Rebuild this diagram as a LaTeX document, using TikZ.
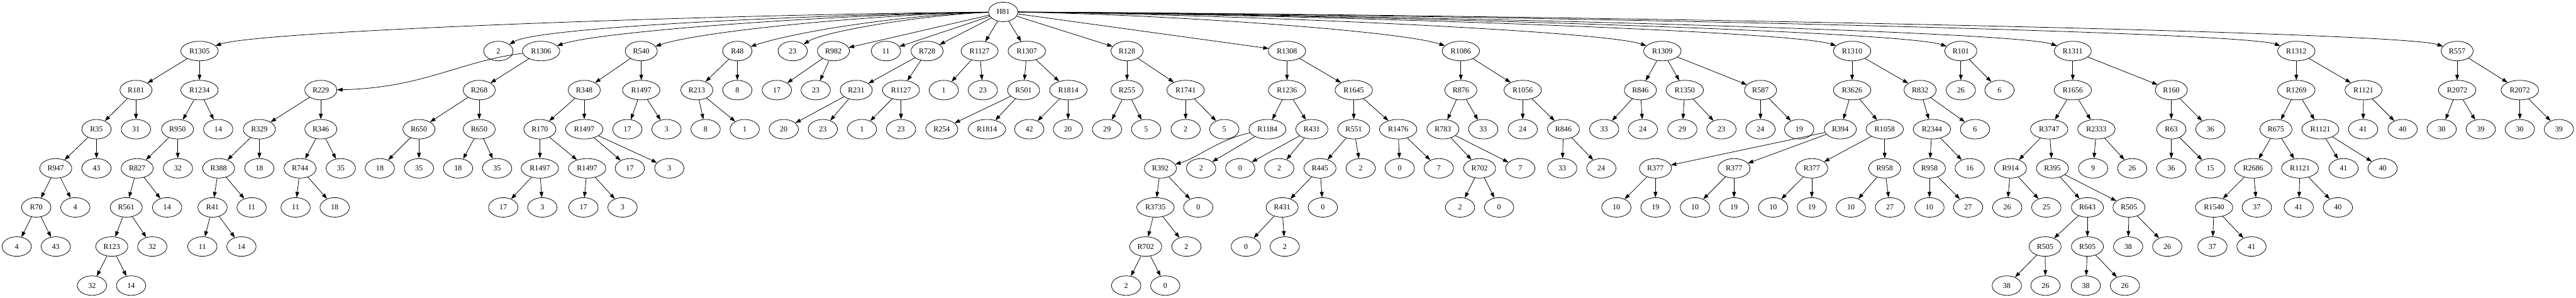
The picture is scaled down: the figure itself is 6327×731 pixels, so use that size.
\documentclass[tikz,border=0pt]{standalone}
\usepackage{fontspec}
\setmainfont{Liberation Serif}
\usetikzlibrary{shapes.geometric,arrows.meta}
\tikzset{
  nd/.style={draw, ellipse, line width=0.9pt, minimum width=54pt, minimum height=36pt,
    inner xsep=5.7pt, inner ysep=3pt, font=\fontsize{14pt}{16pt}\selectfont},
  ed/.style={draw, line width=0.9pt, -{Triangle[length=10pt,width=7pt]}}
}
\begin{document}
\begin{tikzpicture}[x=0.75pt,y=-0.75pt]
\useasboundingbox (0,0) rectangle (6327,731);
% row 0
\node[nd] (h) at (2464,29.3) {H81};
% row 1
\def\yr{125.4}
\node[nd] (a1) at (490,\yr) {R1305};
\node[nd] (a2) at (1224,\yr) {2};
\node[nd] (a3) at (1329,\yr) {R1306};
\node[nd] (a4) at (1575,\yr) {R540};
\node[nd] (a5) at (1811,\yr) {R48};
\node[nd] (a6) at (1947,\yr) {23};
\node[nd] (a7) at (2047,\yr) {R982};
\node[nd] (a8) at (2176,\yr) {11};
\node[nd] (a9) at (2277,\yr) {R728};
\node[nd] (a10) at (2406,\yr) {R1127};
\node[nd] (a11) at (2522,\yr) {R1307};
\node[nd] (a12) at (2768,\yr) {R128};
\node[nd] (a13) at (3161,\yr) {R1308};
\node[nd] (a14) at (3588,\yr) {R1086};
\node[nd] (a15) at (4083,\yr) {R1309};
\node[nd] (a16) at (4549,\yr) {R1310};
\node[nd] (a17) at (4816,\yr) {R101};
\node[nd] (a18) at (5091,\yr) {R1311};
\node[nd] (a19) at (5640,\yr) {R1312};
\node[nd] (a20) at (6035,\yr) {R557};
% row 2
\def\yr{221.4}
\node[nd] (b1) at (334,\yr) {R181};
\node[nd] (b2) at (490,\yr) {R1234};
\node[nd] (b3) at (788,\yr) {R229};
\node[nd] (b4) at (1177,\yr) {R268};
\node[nd] (b5) at (1435,\yr) {R348};
\node[nd] (b6) at (1575,\yr) {R1497};
\node[nd] (b7) at (1711.5,\yr) {R213};
\node[nd] (b8) at (1811,\yr) {8};
\node[nd] (b9) at (1908,\yr) {17};
\node[nd] (b10) at (2003.5,\yr) {23};
\node[nd] (b11) at (2103,\yr) {R231};
\node[nd] (b12) at (2213,\yr) {R1127};
\node[nd] (b13) at (2318,\yr) {1};
\node[nd] (b14) at (2414,\yr) {23};
\node[nd] (b15) at (2514,\yr) {R501};
\node[nd] (b16) at (2624,\yr) {R1814};
\node[nd] (b17) at (2768,\yr) {R255};
\node[nd] (b18) at (2912,\yr) {R1741};
\node[nd] (b19) at (3161,\yr) {R1236};
\node[nd] (b20) at (3325,\yr) {R1645};
\node[nd] (b21) at (3588,\yr) {R876};
\node[nd] (b22) at (3740,\yr) {R1056};
\node[nd] (b23) at (4029,\yr) {R846};
\node[nd] (b24) at (4138,\yr) {R1350};
\node[nd] (b25) at (4324,\yr) {R587};
\node[nd] (b26) at (4549,\yr) {R3626};
\node[nd] (b27) at (4716,\yr) {R832};
\node[nd] (b28) at (4816,\yr) {26};
\node[nd] (b29) at (4911,\yr) {6};
\node[nd] (b30) at (5091,\yr) {R1656};
\node[nd] (b31) at (5333,\yr) {R160};
\node[nd] (b32) at (5640,\yr) {R1269};
\node[nd] (b33) at (5805,\yr) {R1121};
\node[nd] (b34) at (6035,\yr) {R2072};
\node[nd] (b35) at (6189,\yr) {R2072};
% row 3
\def\yr{317.5}
\node[nd] (c1) at (237,\yr) {R35};
\node[nd] (c2) at (334,\yr) {31};
\node[nd] (c3) at (436,\yr) {R950};
\node[nd] (c4) at (536,\yr) {14};
\node[nd] (c5) at (637,\yr) {R329};
\node[nd] (c6) at (788,\yr) {R346};
\node[nd] (c7) at (1029,\yr) {R650};
\node[nd] (c8) at (1177,\yr) {R650};
\node[nd] (c9) at (1326,\yr) {R170};
\node[nd] (c10) at (1435,\yr) {R1497};
\node[nd] (c11) at (1541,\yr) {17};
\node[nd] (c12) at (1637,\yr) {3};
\node[nd] (c13) at (1733,\yr) {8};
\node[nd] (c14) at (1829,\yr) {1};
\node[nd] (c15) at (1925,\yr) {20};
\node[nd] (c16) at (2021,\yr) {23};
\node[nd] (c17) at (2117,\yr) {1};
\node[nd] (c18) at (2213,\yr) {23};
\node[nd] (c19) at (2313,\yr) {R254};
\node[nd] (c20) at (2424,\yr) {R1814};
\node[nd] (c21) at (2528,\yr) {42};
\node[nd] (c22) at (2623,\yr) {20};
\node[nd] (c23) at (2719,\yr) {29};
\node[nd] (c24) at (2815,\yr) {5};
\node[nd] (c25) at (2912,\yr) {2};
\node[nd] (c26) at (3007,\yr) {5};
\node[nd] (c27) at (3113,\yr) {R1184};
\node[nd] (c28) at (3222,\yr) {R431};
\node[nd] (c29) at (3325,\yr) {R551};
\node[nd] (c30) at (3434,\yr) {R1476};
\node[nd] (c31) at (3544,\yr) {R783};
\node[nd] (c32) at (3643,\yr) {33};
\node[nd] (c33) at (3740,\yr) {24};
\node[nd] (c34) at (3840,\yr) {R846};
\node[nd] (c35) at (3940,\yr) {33};
\node[nd] (c36) at (4035,\yr) {24};
\node[nd] (c37) at (4132,\yr) {29};
\node[nd] (c38) at (4228,\yr) {23};
\node[nd] (c39) at (4324,\yr) {24};
\node[nd] (c40) at (4419,\yr) {19};
\node[nd] (c41) at (4520,\yr) {R394};
\node[nd] (c42) at (4629,\yr) {R1058};
\node[nd] (c43) at (4745,\yr) {R2344};
\node[nd] (c44) at (4851,\yr) {6};
\node[nd] (c45) at (5033,\yr) {R3747};
\node[nd] (c46) at (5149,\yr) {R2333};
\node[nd] (c47) at (5333,\yr) {R63};
\node[nd] (c48) at (5429,\yr) {36};
\node[nd] (c49) at (5590,\yr) {R675};
\node[nd] (c50) at (5699,\yr) {R1121};
\node[nd] (c51) at (5804,\yr) {41};
\node[nd] (c52) at (5901,\yr) {40};
\node[nd] (c53) at (5997,\yr) {30};
\node[nd] (c54) at (6093,\yr) {39};
\node[nd] (c55) at (6189,\yr) {30};
\node[nd] (c56) at (6285,\yr) {39};
% row 4
\def\yr{413.6}
\node[nd] (d1) at (137,\yr) {R947};
\node[nd] (d2) at (237,\yr) {43};
\node[nd] (d3) at (337,\yr) {R827};
\node[nd] (d4) at (437,\yr) {32};
\node[nd] (d5) at (537,\yr) {R388};
\node[nd] (d6) at (637,\yr) {18};
\node[nd] (d7) at (737,\yr) {R744};
\node[nd] (d8) at (837,\yr) {35};
\node[nd] (d9) at (933,\yr) {18};
\node[nd] (d10) at (1029,\yr) {35};
\node[nd] (d11) at (1125,\yr) {18};
\node[nd] (d12) at (1221,\yr) {35};
\node[nd] (d13) at (1326,\yr) {R1497};
\node[nd] (d14) at (1442,\yr) {R1497};
\node[nd] (d15) at (1547,\yr) {17};
\node[nd] (d16) at (1644,\yr) {3};
\node[nd] (d17) at (2850,\yr) {R392};
\node[nd] (d18) at (2950,\yr) {2};
\node[nd] (d19) at (3046,\yr) {0};
\node[nd] (d20) at (3142,\yr) {2};
\node[nd] (d21) at (3242,\yr) {R445};
\node[nd] (d22) at (3342,\yr) {2};
\node[nd] (d23) at (3438,\yr) {0};
\node[nd] (d24) at (3534,\yr) {7};
\node[nd] (d25) at (3634,\yr) {R702};
\node[nd] (d26) at (3734,\yr) {7};
\node[nd] (d27) at (3837,\yr) {33};
\node[nd] (d28) at (3933,\yr) {24};
\node[nd] (d29) at (4066,\yr) {R377};
\node[nd] (d30) at (4259,\yr) {R377};
\node[nd] (d31) at (4450,\yr) {R377};
\node[nd] (d32) at (4629,\yr) {R958};
\node[nd] (d33) at (4739,\yr) {R958};
\node[nd] (d34) at (4838,\yr) {16};
\node[nd] (d35) at (4938,\yr) {R914};
\node[nd] (d36) at (5041,\yr) {R395};
\node[nd] (d37) at (5141,\yr) {9};
\node[nd] (d38) at (5237,\yr) {26};
\node[nd] (d39) at (5333,\yr) {36};
\node[nd] (d40) at (5429,\yr) {15};
\node[nd] (d41) at (5534,\yr) {R2686};
\node[nd] (d42) at (5649,\yr) {R1121};
\node[nd] (d43) at (5756,\yr) {41};
\node[nd] (d44) at (5852,\yr) {40};
% row 5
\def\yr{509.6}
\node[nd] (e1) at (89,\yr) {R70};
\node[nd] (e2) at (185,\yr) {4};
\node[nd] (e3) at (310,\yr) {R561};
\node[nd] (e4) at (410.5,\yr) {14};
\node[nd] (e5) at (522,\yr) {R41};
\node[nd] (e6) at (618,\yr) {11};
\node[nd] (e7) at (726,\yr) {11};
\node[nd] (e8) at (822,\yr) {18};
\node[nd] (e9) at (1236,\yr) {17};
\node[nd] (e10) at (1332,\yr) {3};
\node[nd] (e11) at (1433,\yr) {17};
\node[nd] (e12) at (1529,\yr) {3};
\node[nd] (e13) at (2838,\yr) {R3735};
\node[nd] (e14) at (2943,\yr) {0};
\node[nd] (e15) at (3149,\yr) {R431};
\node[nd] (e16) at (3249,\yr) {0};
\node[nd] (e17) at (3586,\yr) {2};
\node[nd] (e18) at (3682,\yr) {0};
\node[nd] (e19) at (3970,\yr) {10};
\node[nd] (e20) at (4066,\yr) {19};
\node[nd] (e21) at (4163,\yr) {10};
\node[nd] (e22) at (4259,\yr) {19};
\node[nd] (e23) at (4355,\yr) {10};
\node[nd] (e24) at (4450,\yr) {19};
\node[nd] (e25) at (4546,\yr) {10};
\node[nd] (e26) at (4642,\yr) {27};
\node[nd] (e27) at (4739,\yr) {10};
\node[nd] (e28) at (4834,\yr) {27};
\node[nd] (e29) at (4930,\yr) {26};
\node[nd] (e30) at (5026,\yr) {25};
\node[nd] (e31) at (5127,\yr) {R643};
\node[nd] (e32) at (5229,\yr) {R505};
\node[nd] (e33) at (5438,\yr) {R1540};
\node[nd] (e34) at (5543,\yr) {37};
\node[nd] (e35) at (5646,\yr) {41};
\node[nd] (e36) at (5742,\yr) {40};
% row 6
\def\yr{605.7}
\node[nd] (f1) at (41,\yr) {4};
\node[nd] (f2) at (137,\yr) {43};
\node[nd] (f3) at (274.5,\yr) {R123};
\node[nd] (f4) at (374,\yr) {32};
\node[nd] (f5) at (497,\yr) {11};
\node[nd] (f6) at (593,\yr) {14};
\node[nd] (f7) at (2814,\yr) {R702};
\node[nd] (f8) at (2914,\yr) {2};
\node[nd] (f9) at (3060,\yr) {0};
\node[nd] (f10) at (3155.5,\yr) {2};
\node[nd] (f11) at (5023,\yr) {R505};
\node[nd] (f12) at (5127,\yr) {R505};
\node[nd] (f13) at (5227,\yr) {38};
\node[nd] (f14) at (5323,\yr) {26};
\node[nd] (f15) at (5434,\yr) {37};
\node[nd] (f16) at (5530,\yr) {41};
% row 7
\def\yr{701.7}
\node[nd] (g1) at (226,\yr) {32};
\node[nd] (g2) at (322,\yr) {14};
\node[nd] (g3) at (2766,\yr) {2};
\node[nd] (g4) at (2862,\yr) {0};
\node[nd] (g5) at (4929,\yr) {38};
\node[nd] (g6) at (5024,\yr) {26};
\node[nd] (g7) at (5123,\yr) {38};
\node[nd] (g8) at (5219,\yr) {26};
% edges from the root: curved ones pass above the nodes in between
\foreach \c/\ax/\bx/\by in {a1/-691/150/-50, a2/-434/100/-60, a3/-397/150/-50,
  a4/-311/150/-50, a5/-229/150/-50, a6/-181/80/-50, a14/393/-150/-50,
  a15/567/-150/-50, a16/730/-150/-50, a17/823/-150/-50, a18/919/-150/-50,
  a19/1112/-150/-50, a20/1250/-150/-50}
  \draw[ed] (h) .. controls +(\ax,6) and +(\bx,\by) .. (\c);
\foreach \c in {a7,a8,a9,a10,a11,a12,a13}
  \draw[ed] (h) -- (\c);
\draw[ed] (a3) .. controls +(-200,25) and +(250,-5) .. (b3);
\draw[ed] (c27) .. controls +(-120,25) and +(90,-25) .. (d17);
\foreach \p/\c in {a1/b1,a1/b2,a3/b4,a4/b5,a4/b6,a5/b7,a5/b8,a7/b9,a7/b10,
  a9/b11,a9/b12,a10/b13,a10/b14,a11/b15,a11/b16,a12/b17,a12/b18,a13/b19,a13/b20,
  a14/b21,a14/b22,a15/b23,a15/b24,a15/b25,a16/b26,a16/b27,a17/b28,a17/b29,
  a18/b30,a18/b31,a19/b32,a19/b33,a20/b34,a20/b35}
  \draw[ed] (\p) -- (\c);
\foreach \p/\c in {b1/c1,b1/c2,b2/c3,b2/c4,b3/c5,b3/c6,b4/c7,b4/c8,b5/c9,b5/c10,
  b6/c11,b6/c12,b7/c13,b7/c14,b11/c15,b11/c16,b12/c17,b12/c18,b15/c19,b15/c20,
  b16/c21,b16/c22,b17/c23,b17/c24,b18/c25,b18/c26,b19/c27,b19/c28,b20/c29,b20/c30,
  b21/c31,b21/c32,b22/c33,b22/c34,b23/c35,b23/c36,b24/c37,b24/c38,b25/c39,b25/c40,
  b26/c41,b26/c42,b27/c43,b27/c44,b30/c45,b30/c46,b31/c47,b31/c48,b32/c49,b32/c50,
  b33/c51,b33/c52,b34/c53,b34/c54,b35/c55,b35/c56}
  \draw[ed] (\p) -- (\c);
\foreach \p/\c in {c1/d1,c1/d2,c3/d3,c3/d4,c5/d5,c5/d6,c6/d7,c6/d8,c7/d9,c7/d10,
  c8/d11,c8/d12,c9/d13,c9/d14,c10/d15,c10/d16,c27/d18,c28/d19,c28/d20,
  c29/d21,c29/d22,c30/d23,c30/d24,c31/d25,c31/d26,c34/d27,c34/d28,c41/d29,c41/d30,
  c42/d31,c42/d32,c43/d33,c43/d34,c45/d35,c45/d36,c46/d37,c46/d38,c47/d39,c47/d40,
  c49/d41,c49/d42,c50/d43,c50/d44}
  \draw[ed] (\p) -- (\c);
\foreach \p/\c in {d1/e1,d1/e2,d3/e3,d3/e4,d5/e5,d5/e6,d7/e7,d7/e8,d13/e9,d13/e10,
  d14/e11,d14/e12,d17/e13,d17/e14,d21/e15,d21/e16,d25/e17,d25/e18,d29/e19,d29/e20,
  d30/e21,d30/e22,d31/e23,d31/e24,d32/e25,d32/e26,d33/e27,d33/e28,d35/e29,d35/e30,
  d36/e31,d36/e32,d41/e33,d41/e34,d42/e35,d42/e36}
  \draw[ed] (\p) -- (\c);
\foreach \p/\c in {e1/f1,e1/f2,e3/f3,e3/f4,e5/f5,e5/f6,e13/f7,e13/f8,e15/f9,e15/f10,
  e31/f11,e31/f12,e32/f13,e32/f14,e33/f15,e33/f16}
  \draw[ed] (\p) -- (\c);
\foreach \p/\c in {f3/g1,f3/g2,f7/g3,f7/g4,f11/g5,f11/g6,f12/g7,f12/g8}
  \draw[ed] (\p) -- (\c);
\end{tikzpicture}
\end{document}
